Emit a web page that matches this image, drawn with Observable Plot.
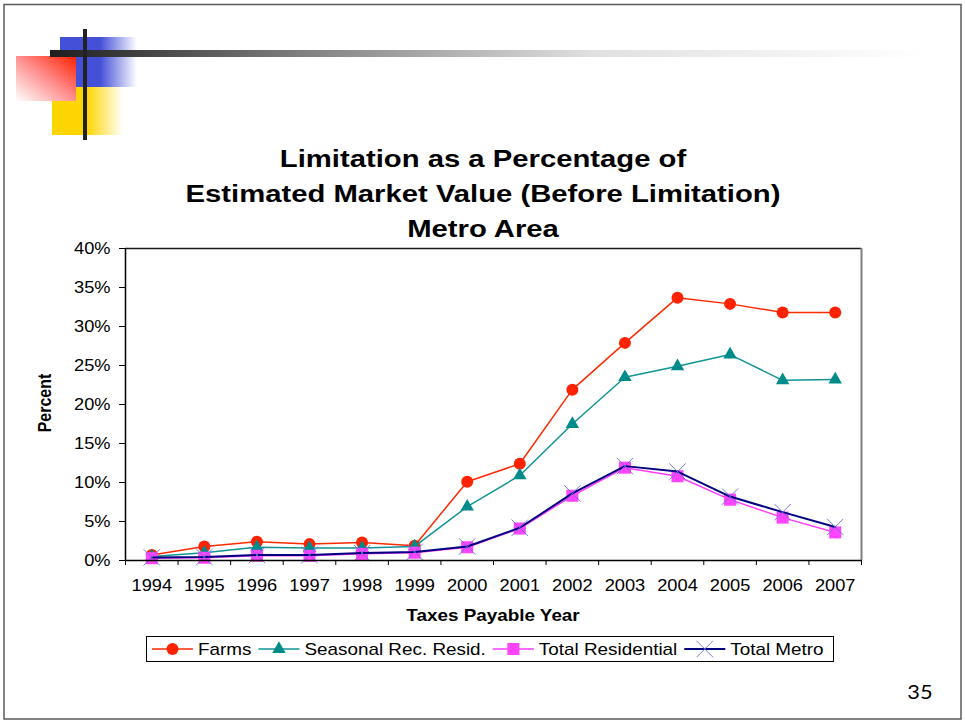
<!DOCTYPE html>
<html>
<head>
<meta charset="utf-8">
<script src="https://cdn.jsdelivr.net/npm/d3@7"></script>
<script src="https://cdn.jsdelivr.net/npm/@observablehq/plot@0.6"></script>
<style>
  body { margin: 0; background: #fff; }
  #page { position: relative; width: 965px; height: 724px; overflow: hidden; background: #fff; }
  #chart { position: absolute; left: 0; top: 240px; }
  #overlay { position: absolute; left: 0; top: 0; pointer-events: none; }
</style>
</head>
<body>
<div id="page">
  <div id="chart"></div>
  <svg id="overlay" width="965" height="724"></svg>
</div>
<script>
// Taxes payable years
const years = [1994, 1995, 1996, 1997, 1998, 1999, 2000, 2001, 2002, 2003, 2004, 2005, 2006, 2007];

// Limitation as a percentage of estimated market value, by property class
const farms       = [0.7, 1.8, 2.4, 2.1, 2.3, 1.9, 10.1, 12.4, 21.9, 27.9, 33.7, 32.9, 31.8, 31.8];
const seasonal    = [0.5, 1.0, 1.7, 1.6, 1.6, 1.8, 6.9, 10.9, 17.5, 23.5, 24.9, 26.4, 23.1, 23.2];
const residential = [0.3, 0.35, 0.6, 0.6, 0.85, 1.0, 1.7, 4.1, 8.3, 11.9, 10.8, 7.8, 5.5, 3.6];
const metro       = [0.4, 0.45, 0.7, 0.7, 0.95, 1.1, 1.8, 4.2, 8.6, 12.1, 11.4, 8.2, 6.2, 4.3];

const seriesNames = ["Farms", "Seasonal Rec. Resid.", "Total Residential", "Total Metro"];
const seriesValues = [farms, seasonal, residential, metro];
const yTicks = [0, 5, 10, 15, 20, 25, 30, 35, 40];

const titleLines = ["Limitation as a Percentage of", "Estimated Market Value (Before Limitation)", "Metro Area"];
const yLabel = "Percent";
const xLabel = "Taxes Payable Year";
const pageNumber = "35";

// Per-series styling
const lineColors = ["#ff2a00", "#109494", "#ff3cff", "#000080"];
const markerFills = ["#ff2200", "#008b8b", "#ff44ff", "none"];
const markerStrokes = ["none", "none", "none", "#6a6ad8"];
const markerSymbols = ["circle", "triangle", "square", "times"];
const markerRadii = [6, 5, 6.8, 7.5];
const lineWidths = [1.5, 1.5, 1.5, 2];

const FONT = "Arial, 'Liberation Sans', Helvetica, sans-serif";
const STRETCH = 1.18;      // slide text is rendered slightly wide
const TICK_FONT = 16;
const TICK_STRETCH = 1.14;

const rows = seriesNames.flatMap((name, k) =>
  years.map((year, i) => ({ name, year, value: seriesValues[k][i] })));

const seriesMarks = seriesNames.flatMap((name, k) => {
  const data = rows.filter(d => d.name === name);
  return [
    Plot.line(data, { x: "year", y: "value", stroke: lineColors[k], strokeWidth: lineWidths[k] }),
    Plot.dot(data, {
      x: "year", y: "value", symbol: markerSymbols[k], r: markerRadii[k],
      fill: markerFills[k], stroke: markerStrokes[k], strokeWidth: 0.9
    })
  ];
});

const first = years[0] - 0.5, last = years[years.length - 1] + 0.5;

const chart = Plot.plot({
  width: 965,
  height: 390,
  marginLeft: 125,
  marginRight: 104,
  marginTop: 8,
  marginBottom: 70,
  style: { background: "transparent", fontFamily: FONT, fontSize: TICK_FONT + "px", color: "#000", overflow: "visible" },
  x: { type: "linear", domain: [first, last] },
  y: { domain: [0, 40] },
  marks: [
    Plot.ruleY([40], { stroke: "#1a1a1a", strokeWidth: 1.5 }),
    Plot.ruleX([last], { stroke: "#808080", strokeWidth: 2 }),
    Plot.axisY({ ticks: yTicks, tickFormat: d => d + "%", tickSize: 6, tickPadding: 9, fontSize: TICK_FONT, label: null }),
    Plot.axisX({ ticks: d3.range(first, last + 0.01, 1), tickFormat: () => "", tickSize: 5, label: null }),
    Plot.axisX({ ticks: years, tickFormat: d => String(d), tickSize: 0, tickPadding: 20, fontSize: TICK_FONT, label: null }),
    ...seriesMarks,
    Plot.ruleX([first], { stroke: "#000", strokeWidth: 1.5 }),
    Plot.ruleY([0], { stroke: "#000", strokeWidth: 1.5 })
  ]
});
document.getElementById("chart").appendChild(chart);

// Widen tick labels around their anchor points and settle them on the axis baseline
const labelShift = { "x-axis tick label": 10, "y-axis tick label": 5 };
Object.entries(labelShift).forEach(([aria, shift]) => {
  chart.querySelectorAll(`g[aria-label="${aria}"] text`).forEach(t => {
    const x = +t.getAttribute("x") || 0, y = +t.getAttribute("y") || 0;
    t.removeAttribute("x"); t.removeAttribute("y");
    const tr = t.getAttribute("transform") || "";
    t.setAttribute("transform", `${tr} translate(${x},${y + shift}) scale(${TICK_STRETCH},1)`);
  });
});

// Slide frame, decoration, titles, legend
const svg = d3.select("#overlay");
const defs = svg.append("defs");

function hGradient(id, stops, attrs = {}) {
  const g = defs.append("linearGradient").attr("id", id);
  Object.entries(attrs).forEach(([k, v]) => g.attr(k, v));
  stops.forEach(([o, c]) => g.append("stop").attr("offset", o).attr("stop-color", c));
}
hGradient("blueFade", [[0, "#4450d8"], [0.52, "#4450d8"], [1, "#ffffff"]]);
hGradient("yellowFade", [[0, "#ffd500"], [0.49, "#ffd500"], [1, "#ffffff"]]);
hGradient("redFade", [[0, "#ff2000"], [0.5, "#ff9090"], [1, "#ffffff"]], { x1: 1, y1: 0, x2: 0, y2: 1 });
hGradient("barFade", [[0, "#1e1e1e"], [0.29, "#808080"], [0.62, "#e0e0e0"], [1, "#ffffff"]]);

svg.append("rect").attr("x", 4).attr("y", 4.5).attr("width", 957).attr("height", 714.5)
  .attr("fill", "none").attr("stroke", "#5a5a5a").attr("stroke-width", 1.5);

svg.append("rect").attr("x", 60).attr("y", 37).attr("width", 77).attr("height", 50).attr("fill", "url(#blueFade)");
svg.append("rect").attr("x", 52).attr("y", 87).attr("width", 71).attr("height", 48).attr("fill", "url(#yellowFade)");
svg.append("rect").attr("x", 16).attr("y", 56).attr("width", 60).attr("height", 45).attr("fill", "url(#redFade)");
svg.append("rect").attr("x", 50).attr("y", 50).attr("width", 875).attr("height", 7).attr("fill", "url(#barFade)");
svg.append("rect").attr("x", 83).attr("y", 29).attr("width", 4).attr("height", 111).attr("fill", "#222");

function label(text, x, y, size, opts = {}) {
  return svg.append("text")
    .attr("transform", `translate(${x},${y}) scale(${STRETCH},1)${opts.rotate ? ` rotate(${opts.rotate})` : ""}`)
    .attr("text-anchor", opts.anchor || "middle")
    .attr("font-family", opts.family || FONT)
    .attr("font-size", size)
    .attr("font-weight", opts.weight || "normal")
    .attr("fill", "#000")
    .text(text);
}

const titleCenters = [158, 193, 228];
titleLines.forEach((line, i) => label(line, 483, titleCenters[i] + 0.36 * 24.8, 24.8, { weight: "bold" }));
label(yLabel, 44 + 0.36 * 16 * STRETCH, 403, 16, { weight: "bold", rotate: -90 });
label(xLabel, 493, 620.5, 16, { weight: "bold" });
label(pageNumber, 920, 699, 18.5, { family: "Lato, Carlito, Calibri, sans-serif" });

// Legend
const symbolTypes = { circle: d3.symbolCircle, triangle: d3.symbolTriangle, square: d3.symbolSquare, times: d3.symbolTimes };
const lg = svg.append("g");
lg.append("rect").attr("x", 146.5).attr("y", 636.5).attr("width", 687).attr("height", 25)
  .attr("fill", "#fff").attr("stroke", "#000").attr("stroke-width", 1);
const legendY = 649;
let cursor = 152;
seriesNames.forEach((name, k) => {
  lg.append("line").attr("x1", cursor).attr("x2", cursor + 41).attr("y1", legendY).attr("y2", legendY)
    .attr("stroke", lineColors[k]).attr("stroke-width", lineWidths[k]);
  lg.append("path")
    .attr("transform", `translate(${cursor + 20.5},${legendY})`)
    .attr("d", d3.symbol(symbolTypes[markerSymbols[k]], Math.PI * markerRadii[k] ** 2)())
    .attr("fill", markerFills[k]).attr("stroke", markerStrokes[k]).attr("stroke-width", 0.9);
  const t = lg.append("text")
    .attr("transform", `translate(${cursor + 46},${legendY + 0.36 * 16}) scale(${STRETCH},1)`)
    .attr("font-family", FONT).attr("font-size", 16).attr("fill", "#000")
    .text(name);
  cursor += 46 + t.node().getComputedTextLength() * STRETCH + 7;
});
</script>
</body>
</html>
